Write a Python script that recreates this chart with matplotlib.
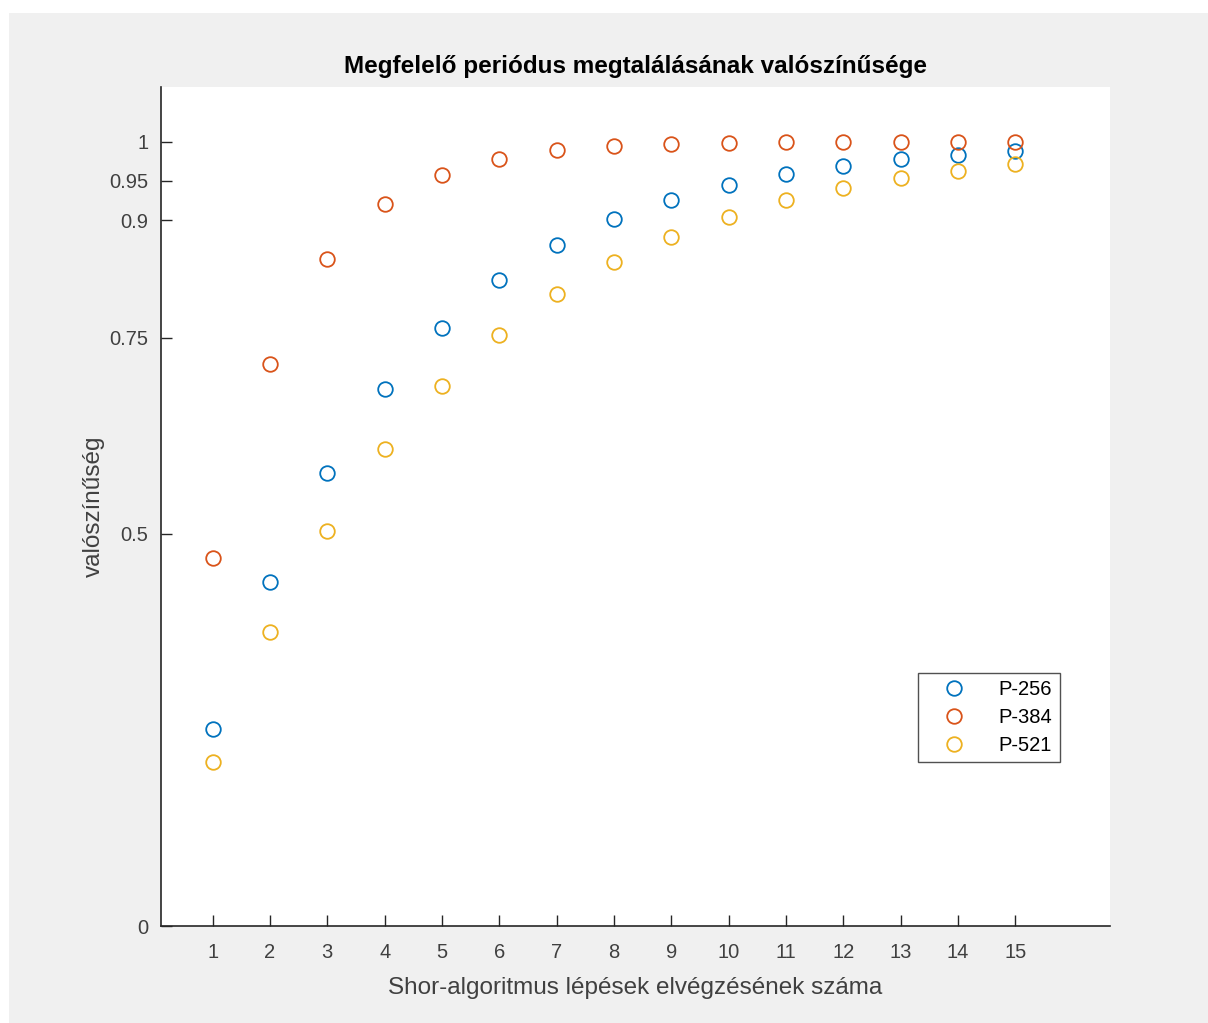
import matplotlib.pyplot as plt
from matplotlib.patches import Rectangle
import numpy as np

plt.rcParams['font.family'] = ['Liberation Sans', 'DejaVu Sans']

lepesek = list(range(1, 16))
p256 = [0.251, 0.438, 0.578, 0.684, 0.763, 0.823, 0.868, 0.901, 0.926, 0.945,
        0.959, 0.969, 0.978, 0.983, 0.988]
p384 = [0.469, 0.717, 0.850, 0.921, 0.958, 0.978, 0.989, 0.994, 0.997, 0.998,
        0.999, 0.9995, 0.9998, 0.9999, 1.0]
p521 = [0.209, 0.375, 0.504, 0.608, 0.689, 0.754, 0.806, 0.846, 0.879, 0.904,
        0.925, 0.941, 0.953, 0.963, 0.971]
cimkek = ['P-256', 'P-384', 'P-521']
szinek = ['#0072BD', '#D95319', '#EDB120']

W, H = 1208, 1023
fig = plt.figure(figsize=(W / 100, H / 100), dpi=100, facecolor='white')
# szurke hatter, bal/felso feher csikkal
fig.patches.append(Rectangle((9 / W, 0), 1, 1 - 13 / H, transform=fig.transFigure,
                             facecolor='#f0f0f0', edgecolor='none', zorder=-10))
ax = fig.add_axes([161 / W, 97 / H, 949 / W, 839.3 / H])
ax.set_facecolor('white')

for adat, cimke, szin in zip([p256, p384, p521], cimkek, szinek):
    ax.plot(lepesek, adat, linestyle='none', marker='o', markersize=10.5,
            markerfacecolor='none', markeredgecolor=szin, markeredgewidth=1.3,
            label=cimke)

ax.set_xlim(0.1, 16.65)
ax.set_ylim(0, 1.07)
ax.set_xticks(lepesek)
ax.set_yticks([0, 0.5, 0.75, 0.9, 0.95, 1])
ax.set_yticklabels(['0', '0.5', '0.75', '0.9', '0.95', '1'])
ax.tick_params(direction='in', length=8, width=1, labelsize=14.5, colors='#262626',
               labelcolor='#404040')
ax.tick_params(axis='x', pad=12)
ax.tick_params(axis='y', pad=9)
for s in ['top', 'right']:
    ax.spines[s].set_visible(False)
for s in ['left', 'bottom']:
    ax.spines[s].set_color('#262626')
    ax.spines[s].set_linewidth(1.2)

ax.set_title('Megfelelő periódus megtalálásának valószínűsége', fontsize=17.5,
             fontweight='bold', color='black', pad=10)
ax.set_xlabel('Shor-algoritmus lépések elvégzésének száma', fontsize=17.5,
              color='#404040', labelpad=11)
ax.set_ylabel('valószínűség', fontsize=17.5, color='#404040', labelpad=3)

leg = ax.legend(loc='lower left', bbox_to_anchor=(0.798, 0.195), fontsize=14.5,
                frameon=True, fancybox=False, handletextpad=0.85, borderpad=0.35,
                labelspacing=0.45, handlelength=2.8, borderaxespad=0)
leg.get_frame().set_edgecolor('#262626')
leg.get_frame().set_linewidth(1.0)

fig.savefig('out.png', dpi=100, facecolor=fig.get_facecolor())
